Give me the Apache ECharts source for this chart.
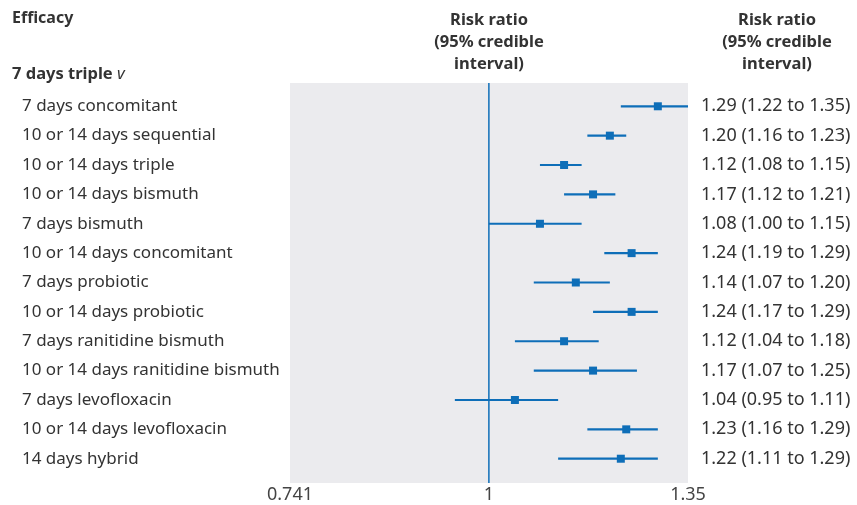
<!DOCTYPE html>
<html>
<head>
<meta charset="utf-8">
<script src="https://cdn.jsdelivr.net/npm/echarts@6/dist/echarts.min.js"></script>
<style>html,body{margin:0;padding:0;background:#fff;}#c{width:857px;height:505px;}</style>
</head>
<body>
<div id="c"></div>
<script>
const categories = ['7 days concomitant','10 or 14 days sequential','10 or 14 days triple','10 or 14 days bismuth','7 days bismuth','10 or 14 days concomitant','7 days probiotic','10 or 14 days probiotic','7 days ranitidine bismuth','10 or 14 days ranitidine bismuth','7 days levofloxacin','10 or 14 days levofloxacin','14 days hybrid'];
const estimate = [1.29,1.20,1.12,1.17,1.08,1.24,1.14,1.24,1.12,1.17,1.04,1.23,1.22];
const lower    = [1.22,1.16,1.08,1.12,1.00,1.19,1.07,1.17,1.04,1.07,0.95,1.16,1.11];
const upper    = [1.35,1.23,1.15,1.21,1.15,1.29,1.20,1.29,1.18,1.25,1.11,1.29,1.29];
const xTicks = [0.741, 1, 1.35];
const rightLabels = categories.map((c,i)=> estimate[i].toFixed(2)+' ('+lower[i].toFixed(2)+' to '+upper[i].toFixed(2)+')');

const FONT = 'Noto Sans';
const TXT = '#333333';
const BLUE = '#0e6eb8';
const chart = echarts.init(document.getElementById('c'));
const data = categories.map((c,i)=>[i, estimate[i], lower[i], upper[i]]);

chart.setOption({
  animation:false,
  textStyle:{fontFamily:FONT},
  grid:[
    {left:290, width:398, top:91.6, height:381.8, show:false, containLabel:false},
    {left:290, width:398, top:83, height:400, show:true, backgroundColor:'#ebebee', borderWidth:0, z:0}
  ],
  xAxis:[
    {gridIndex:0, type:'log', min:0.741, max:1.35, show:false},
    {gridIndex:1, type:'log', min:0.741, max:1.35,
      axisLine:{show:false}, axisTick:{show:false}, splitLine:{show:false},
      axisLabel:{customValues:xTicks, color:'#444', fontSize:18, fontFamily:FONT, margin:3,
        formatter:(v)=>String(+(+v).toFixed(3))}}
  ],
  yAxis:[
    {gridIndex:0, type:'category', data:categories, inverse:true, position:'left',
      axisLine:{show:false}, axisTick:{show:false}, splitLine:{show:false},
      axisLabel:{align:'left', margin:268, color:TXT, fontSize:17, fontFamily:FONT, interval:0}},
    {gridIndex:0, type:'category', data:rightLabels, inverse:true, position:'right',
      axisLine:{show:false}, axisTick:{show:false}, splitLine:{show:false},
      axisLabel:{align:'left', margin:13, color:TXT, fontSize:18, fontFamily:FONT, interval:0}},
    {gridIndex:1, type:'value', min:0, max:1, show:false}
  ],
  graphic:[
    {type:'text', left:12, top:10, style:{text:'Efficacy', fontFamily:FONT, fontSize:16, fontWeight:'bold', fill:TXT}},
    {type:'text', left:12, top:66, style:{text:'{b|7 days triple }{i|v}', fontFamily:FONT, fontSize:16, fill:TXT,
      rich:{b:{fontWeight:'bold', fontSize:16.5, fontFamily:FONT, color:TXT}, i:{fontStyle:'italic', fontSize:16.5, fontFamily:FONT, color:TXT}}}},
    {type:'text', x:489, y:9, style:{text:'Risk ratio\n(95% credible\ninterval)', align:'center', lineHeight:22, fontFamily:FONT, fontSize:16.5, fontWeight:'bold', fill:TXT}},
    {type:'text', x:777, y:9, style:{text:'Risk ratio\n(95% credible\ninterval)', align:'center', lineHeight:22, fontFamily:FONT, fontSize:16.5, fontWeight:'bold', fill:TXT}}
  ],
  series:[
    {type:'line', xAxisIndex:1, yAxisIndex:2, data:[[1,0],[1,1]], symbol:'none', lineStyle:{color:BLUE, width:1.5}, z:1, silent:true},
    {type:'custom', xAxisIndex:0, yAxisIndex:0, data:data, z:3,
      encode:{x:[1,2,3], y:0},
      renderItem:function(params, api){
        const y = api.value(0);
        const pE = api.coord([api.value(1), y]);
        const pL = api.coord([api.value(2), y]);
        const pH = api.coord([api.value(3), y]);
        const s = 8;
        return {type:'group', children:[
          {type:'line', shape:{x1:pL[0], y1:pL[1], x2:pH[0], y2:pH[1]}, style:{stroke:BLUE, lineWidth:2.2}},
          {type:'rect', shape:{x:pE[0]-s/2, y:pE[1]-s/2, width:s, height:s}, style:{fill:BLUE}}
        ]};
      }}
  ]
});
</script>
</body>
</html>
